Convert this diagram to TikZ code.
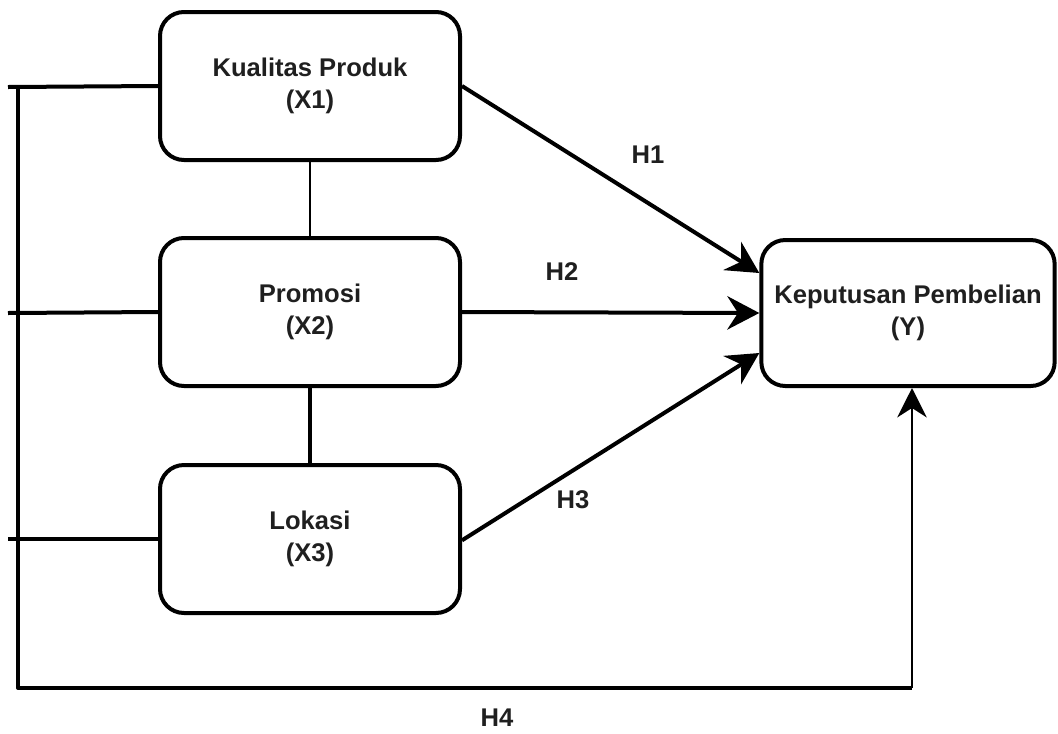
\documentclass[tikz,border=0pt]{standalone}
\usepackage{fontspec}
\setmainfont{Liberation Sans}
\usepackage{tikz}
\usetikzlibrary{arrows.meta}
\tikzset{>={Stealth[length=24pt,width=25pt,inset=8pt]}}

\begin{document}
\begin{tikzpicture}[x=0.75pt,y=-0.75pt,
        var/.style={draw,line width=3pt,rounded corners=18pt,minimum width=225pt,minimum height=111pt,
            align=center,font=\fontsize{19.2}{24}\selectfont\bfseries,text=black!88},
        hyp/.style={font=\fontsize{19.2}{24}\selectfont\bfseries,text=black!88},
        link/.style={line width=3pt},
        thinlink/.style={line width=2.2pt}]
            \draw[draw=none,use as bounding box] (0,0) rectangle (1058,733);
            \node[var] (x1) at (310,86){Kualitas Produk\\(X1)};
            \node[var] (x2) at (310,312){Promosi\\(X2)};
            \node[var] (x3) at (310,539){Lokasi\\(X3)};
            \node[var,minimum width=220pt,minimum height=109.5pt] (y) at (908,313){Keputusan Pembelian\\(Y)};
            \node[hyp] (h1) at (648,155){H1};
            \node[hyp] (h2) at (562,272){H2};
            \node[hyp] (h3) at (573,500){H3};
            \node[hyp] (h4) at (497,718){H4};
            \coordinate (t1) at (8,87);
            \coordinate (t2) at (8,313);
            \coordinate (t3) at (8,539);
            \coordinate (b1) at (18,87);
            \coordinate (b2) at (18,688);
            \coordinate (b3) at (912,688);
            \draw[link] (t1) -- (x1.west);
            \draw[link] (t2) -- (x2.west);
            \draw[link] (t3) -- (x3.west);
            \draw[link,line join=round] (b1) -- (b2) -- (b3);
            \draw[thinlink,->,>={Stealth[length=22pt,width=22pt,inset=7pt]}] (b3) -- (b3 |- y.south);
            \draw[thinlink] (x1) -- (x2);
            \draw[link] (x2) -- (x3);
            \draw[link,->] (x1.east) -- ([yshift=30pt]y.west);
            \draw[link,->] (x2.east) -- (y.west);
            \draw[link,->] ([yshift=-1pt]x3.east) -- ([yshift=-30pt]y.west);
        \end{tikzpicture}
\end{document}
